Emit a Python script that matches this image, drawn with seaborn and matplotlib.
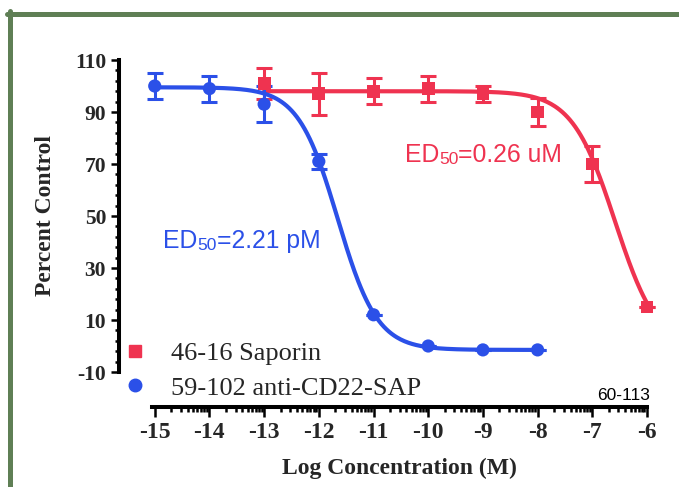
import numpy as np
import pandas as pd
import matplotlib.pyplot as plt
import seaborn as sns
from matplotlib.lines import Line2D
from matplotlib.ticker import FixedLocator, MultipleLocator

# data
log_conc_sap = [-13, -12, -11, -10, -9, -8, -7, -6]
pct_sap = [101, 97, 98, 99, 97, 90, 70, 15]
err_sap = [6, 8, 5, 5, 3, 5.5, 7, 0]

log_conc_cd22 = [-15, -14, -13, -12, -11, -10, -9, -8]
pct_cd22 = [100, 99, 93, 71, 12, 0, -1.5, -1.5]
err_cd22 = [5, 5, 7, 3, 0, 0, 0, 0]

# four parameter logistic fits: top, bottom, log ED50, hill slope
fit_sap = (98, -2, np.log10(0.26e-6), 1.1)
fit_cd22 = (99.5, -1.5, np.log10(2.21e-12), 1.2)

x_ticks = list(range(-15, -5))
y_ticks = [-10, 10, 30, 50, 70, 90, 110]

red = '#EF3350'
blue = '#2B50E8'
green = '#5F7F55'
serif = 'Liberation Serif'
sans = 'Liberation Sans'


def four_pl(x, top, bottom, logec50, hill):
    return bottom + (top - bottom) / (1 + 10 ** ((x - logec50) * hill))


sns.set_theme(style='ticks')
plt.rcParams['font.family'] = [serif, 'DejaVu Sans']
plt.rcParams['axes.unicode_minus'] = False

fig = plt.figure(figsize=(6.79, 4.87), dpi=100)
ax = fig.add_axes([152 / 679, 115 / 487, 495 / 679, 312 / 487])

# fitted curves
xs_sap = np.linspace(min(log_conc_sap), max(log_conc_sap), 300)
xs_cd22 = np.linspace(min(log_conc_cd22), max(log_conc_cd22), 300)
curve_sap = pd.DataFrame({'x': xs_sap, 'y': four_pl(xs_sap, *fit_sap)})
curve_cd22 = pd.DataFrame({'x': xs_cd22, 'y': four_pl(xs_cd22, *fit_cd22)})

sns.lineplot(data=curve_sap, x='x', y='y', color=red, linewidth=3, ax=ax, clip_on=False)
ax.errorbar(log_conc_sap, pct_sap, yerr=err_sap, fmt='none', ecolor=red,
            elinewidth=2.2, capsize=6, capthick=2.2, clip_on=False)
sns.scatterplot(x=log_conc_sap, y=pct_sap, marker='s', s=85, color=red,
                edgecolor='none', ax=ax, clip_on=False, zorder=3)

sns.lineplot(data=curve_cd22, x='x', y='y', color=blue, linewidth=3, ax=ax, clip_on=False)
ax.errorbar(log_conc_cd22, pct_cd22, yerr=err_cd22, fmt='none', ecolor=blue,
            elinewidth=2.2, capsize=6, capthick=2.2, clip_on=False)
sns.scatterplot(x=log_conc_cd22, y=pct_cd22, marker='o', s=90, color=blue,
                edgecolor='none', ax=ax, clip_on=False, zorder=3)

ax.set_xlim(-15.05, -6)
ax.set_ylim(-10, 110)

# prism style offset axes
sns.despine(ax=ax)
ax.spines['left'].set_position(('outward', 24))
ax.spines['bottom'].set_position(('outward', 25))
for side in ['left', 'bottom']:
    ax.spines[side].set_linewidth(2.9)
    ax.spines[side].set_color('black')

ax.set_xticks(x_ticks)
ax.set_xticklabels([str(t) for t in x_ticks])
ax.xaxis.set_minor_locator(FixedLocator(
    [n + np.log10(k) for n in range(-15, -6) for k in range(2, 10)]))
ax.set_yticks(y_ticks)
ax.set_yticklabels([str(t) for t in y_ticks])
ax.yaxis.set_minor_locator(MultipleLocator(4, offset=2))

ax.tick_params(axis='x', which='major', length=7.2, width=1.8, pad=4, color='black')
ax.tick_params(axis='x', which='minor', length=3.6, width=1.8, color='black')
ax.tick_params(axis='y', which='major', length=6, width=1.8, pad=3, color='black')
ax.tick_params(axis='y', which='minor', length=3, width=1.8, color='black')
for lab in ax.get_xticklabels():
    lab.set_fontfamily(serif)
    lab.set_fontweight('bold')
    lab.set_fontsize(17)
for lab in ax.get_yticklabels():
    lab.set_fontfamily(serif)
    lab.set_fontweight('bold')
    lab.set_fontsize(15.5)

ax.set_xlabel('Log Concentration (M)', fontfamily=serif, fontweight='bold', fontsize=17)
ax.set_ylabel('Percent Control', fontfamily=serif, fontweight='bold', fontsize=17)
ax.xaxis.label.set_va('center')
ax.xaxis.set_label_coords(0.5, -0.3077)
ax.yaxis.label.set_va('center')
ax.yaxis.label.set_ha('center')
ax.yaxis.set_label_coords(-0.216, 0.503)
ax.grid(False)


def ed50_label(x, y, value, color):
    t1 = ax.text(x, y, 'ED', color=color, fontfamily=sans, fontsize=17.8, va='baseline')
    t2 = ax.annotate('50', xy=(1, 0), xycoords=t1, color=color, fontfamily=sans,
                     fontsize=12.5, va='bottom', ha='left')
    ax.annotate(value, xy=(1, 0), xycoords=t2, color=color, fontfamily=sans,
                fontsize=17.8, va='bottom', ha='left')


ed50_label(-10.43, 70.8, '=0.26 uM', red)
ed50_label(-14.85, 37.7, '=2.21 pM', blue)

handles = [Line2D([], [], marker='s', color=red, linestyle='none', markersize=9),
           Line2D([], [], marker='o', color=blue, linestyle='none', markersize=9)]
ax.legend(handles, ['46-16 Saporin', '59-102 anti-CD22-SAP'], loc='center left',
          bbox_to_anchor=(128 / 679, 1 - 370.5 / 487), bbox_transform=fig.transFigure,
          frameon=False, prop={'family': serif, 'size': 19}, handlelength=0.55,
          handletextpad=1.07, labelspacing=0.42, borderpad=0, borderaxespad=0)

fig.text(650 / 679, 1 - 395 / 487, '60-113', ha='right', va='center',
         fontfamily=sans, fontsize=12.5, color='black')

# green frame on the top and left
fig.add_artist(Line2D([9.5 / 679, 9.5 / 679], [0, 1 - 11 / 487], transform=fig.transFigure,
                      color=green, linewidth=3.6))
fig.add_artist(Line2D([7 / 679, 1], [1 - 13.5 / 487, 1 - 13.5 / 487], transform=fig.transFigure,
                      color=green, linewidth=3.6))

fig.savefig('out.png', dpi=100)
